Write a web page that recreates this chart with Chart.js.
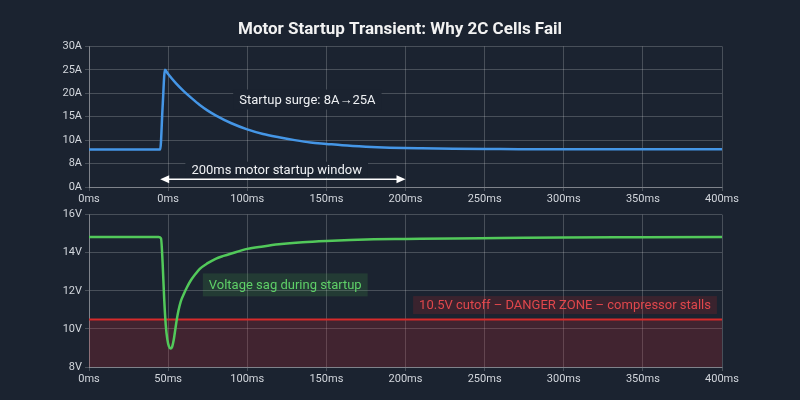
<!DOCTYPE html>
<html>
<head>
<meta charset="utf-8">
<script src="https://cdn.jsdelivr.net/npm/chart.js@4.4.0/dist/chart.umd.min.js"></script>
<style>
  body { margin: 0; background: #1b2330; }
  #wrap { position: relative; width: 800px; height: 400px; }
  .box { position: absolute; left: 0; width: 800px; }
</style>
</head>
<body>
<div id="wrap">
  <div class="box" style="top:0;height:210px"><canvas id="currentChart"></canvas></div>
  <div class="box" style="top:205px;height:195px"><canvas id="voltageChart"></canvas></div>
</div>
<script>
// Tick labels (top chart labels are as drawn in the original)
const topTimeLabels = ['0ms', '0ms', '100ms', '150ms', '200ms', '250ms', '300ms', '350ms', '400ms'];
const bottomTimeLabels = ['0ms', '50ms', '100ms', '150ms', '200ms', '250ms', '300ms', '350ms', '400ms'];
const ampTickLabels = ['0A', '8A', '10A', '15A', '20A', '25A', '30A'];
const voltTickLabels = ['8V', '10V', '12V', '14V', '16V'];

// Motor current (ms, A)
const currentTimes = [0, 44, 45, 46.5, 48, 50, 55, 60, 65, 70, 75, 80, 90, 100, 110, 120, 130, 140, 150, 160, 175, 190, 210, 230, 260, 300, 350, 400];
const currentAmps  = [8.0, 8.0, 8.0, 17, 25, 24.1, 22.1, 20.4, 18.9, 17.5, 16.3, 15.3, 13.6, 12.3, 11.3, 10.6, 10.0, 9.5, 9.2, 8.9, 8.6, 8.4, 8.25, 8.15, 8.1, 8.05, 8.05, 8.05];

// Battery voltage (ms, V)
const voltTimes  = [0, 44, 45.5, 46.5, 47.5, 48.5, 49.5, 50.5, 51.5, 52.5, 53.5, 54.5, 55.5, 56.5, 58, 60, 62, 64, 67, 70, 75, 80, 85, 90, 100, 110, 120, 135, 150, 165, 180, 200, 230, 260, 300, 350, 400];
const voltValues = [14.82, 14.82, 14.75, 13.5, 11.6, 10.2, 9.45, 9.08, 8.97, 9.05, 9.4, 9.95, 10.5, 10.95, 11.45, 11.85, 12.2, 12.5, 12.85, 13.15, 13.45, 13.68, 13.83, 13.96, 14.2, 14.33, 14.44, 14.55, 14.62, 14.67, 14.7, 14.72, 14.75, 14.77, 14.8, 14.81, 14.82];

const cutoffVolts = 10.5;

const gridColor = 'rgba(255,255,255,0.2)';
const tickColor = '#d2d6dc';
const font = { family: 'Roboto', size: 11 };

// draws text boxes and the window arrow from data coordinates
const notesPlugin = {
  id: 'notes',
  afterDatasetsDraw(chart, args, opts) {
    const { ctx, scales: { x, y } } = chart;
    (opts.arrows || []).forEach(a => {
      const x1 = x.getPixelForValue(a.from), x2 = x.getPixelForValue(a.to), py = y.getPixelForValue(a.y);
      ctx.save();
      ctx.strokeStyle = a.color; ctx.fillStyle = a.color; ctx.lineWidth = 1.5;
      ctx.beginPath(); ctx.moveTo(x1 + 6, py); ctx.lineTo(x2 - 6, py); ctx.stroke();
      ctx.beginPath(); ctx.moveTo(x1, py); ctx.lineTo(x1 + 9, py - 4); ctx.lineTo(x1 + 9, py + 4); ctx.closePath(); ctx.fill();
      ctx.beginPath(); ctx.moveTo(x2, py); ctx.lineTo(x2 - 9, py - 4); ctx.lineTo(x2 - 9, py + 4); ctx.closePath(); ctx.fill();
      ctx.restore();
    });
    (opts.labels || []).forEach(l => {
      ctx.save();
      ctx.font = '13px Roboto';
      const w = ctx.measureText(l.text).width;
      const px = x.getPixelForValue(l.x), py = y.getPixelForValue(l.y);
      ctx.fillStyle = l.bg;
      ctx.fillRect(px - w / 2 - l.padX, py - l.h / 2, w + l.padX * 2, l.h);
      ctx.fillStyle = l.color; ctx.textAlign = 'center'; ctx.textBaseline = 'middle';
      ctx.fillText(l.text, px, py + 1);
      ctx.restore();
    });
  }
};

function xScale(labels) {
  return {
    type: 'linear', min: 0, max: 400,
    afterFit: s => { s.height = 23; },
    border: { color: 'rgba(255,255,255,0.3)' },
    grid: { color: gridColor, tickLength: 4 },
    ticks: { stepSize: 50, color: tickColor, font, padding: 2, maxRotation: 0,
      callback: (v, i) => labels[i] }
  };
}

// empty right-hand axis that only reserves space, so the title stays centred on the page
const rightSpacer = {
  position: 'right', display: true,
  afterFit: s => { s.width = 78; },
  grid: { display: false }, border: { display: false }, ticks: { display: false }
};

new Chart(document.getElementById('currentChart'), {
  type: 'line',
  data: {
    datasets: [{
      data: currentTimes.map((t, i) => ({ x: t, y: currentAmps[i] })),
      borderColor: '#4596e6', borderWidth: 2.5, pointRadius: 0,
      cubicInterpolationMode: 'monotone', fill: false
    }]
  },
  options: {
    responsive: true, maintainAspectRatio: false, animation: false,
    layout: { padding: { left: 0, right: 0, bottom: 0 } },
    plugins: {
      legend: { display: false }, tooltip: { enabled: false },
      title: { display: true, text: 'Motor Startup Transient: Why 2C Cells Fail', color: '#f2f2f2',
        font: { family: 'Roboto', size: 17, weight: 'bold' }, padding: { top: 20, bottom: 6 } },
      notes: {
        arrows: [{ from: 45, to: 200, y: 1.64, color: '#ffffff' }],
        labels: [
          { text: 'Startup surge: 8A\u219225A', x: 138, y: 18.66, color: '#eef0f3', bg: '#1b2330', padX: 6, h: 20 },
          { text: '200ms motor startup window', x: 118.6, y: 3.7, color: '#eef0f3', bg: '#1b2330', padX: 6, h: 16 }
        ]
      }
    },
    scales: {
      x: xScale(topTimeLabels),
      y: {
        min: 0, max: 30,
        afterFit: s => { s.width = 89; },
        border: { color: 'rgba(255,255,255,0.3)' },
        grid: { color: gridColor, tickLength: 4 },
        ticks: { stepSize: 5, color: tickColor, font, padding: 3, callback: (v, i) => ampTickLabels[i] }
      },
      yRight: rightSpacer
    }
  },
  plugins: [notesPlugin]
});

new Chart(document.getElementById('voltageChart'), {
  type: 'line',
  data: {
    datasets: [{
      data: voltTimes.map((t, i) => ({ x: t, y: voltValues[i] })),
      borderColor: '#52c95a', borderWidth: 2.5, pointRadius: 0,
      cubicInterpolationMode: 'monotone', fill: false
    }, {
      data: [{ x: 0, y: cutoffVolts }, { x: 400, y: cutoffVolts }],
      borderColor: '#d52b2b', borderWidth: 2, pointRadius: 0,
      fill: 'start', backgroundColor: 'rgba(200,40,50,0.22)'
    }]
  },
  options: {
    responsive: true, maintainAspectRatio: false, animation: false,
    layout: { padding: { left: 0, right: 78, top: 9, bottom: 10 } },
    plugins: {
      legend: { display: false }, tooltip: { enabled: false },
      notes: {
        labels: [
          { text: 'Voltage sag during startup', x: 124, y: 12.31, color: '#5fd068', bg: 'rgba(76,175,80,0.17)', padX: 6, h: 23 },
          { text: '10.5V cutoff \u2013 DANGER ZONE \u2013 compressor stalls', x: 300.8, y: 11.25, color: '#e0474c', bg: 'rgba(200,40,40,0.18)', padX: 6, h: 18 }
        ]
      }
    },
    scales: {
      x: xScale(bottomTimeLabels),
      y: {
        min: 8, max: 16,
        afterFit: s => { s.width = 89; },
        border: { color: 'rgba(255,255,255,0.3)' },
        grid: { color: gridColor, tickLength: 4 },
        ticks: { stepSize: 2, color: tickColor, font, padding: 3, callback: (v, i) => voltTickLabels[i] }
      }
    }
  },
  plugins: [notesPlugin]
});
</script>
</body>
</html>
